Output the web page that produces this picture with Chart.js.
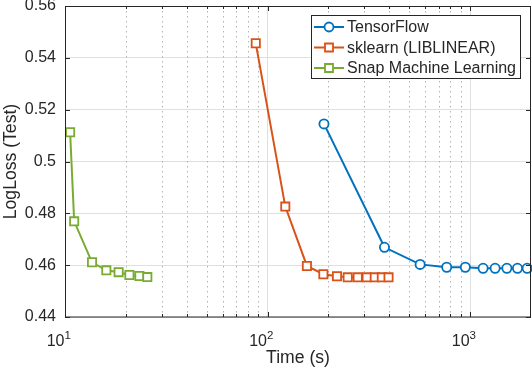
<!DOCTYPE html>
<html>
<head>
<meta charset="utf-8">
<script src="https://cdn.jsdelivr.net/npm/chart.js@4/dist/chart.umd.min.js"></script>
<style>
html,body{margin:0;padding:0;background:#fff;}
#wrap{width:532px;height:375px;position:relative;}
</style>
</head>
<body>
<div id="wrap"><canvas id="c"></canvas></div>
<script>
// values
const tfTime   = [190, 378, 567, 767, 948, 1160, 1330, 1520, 1715, 1915];
const tfLoss   = [0.5145, 0.4669, 0.4603, 0.4592, 0.4592, 0.4588, 0.4588, 0.4588, 0.4588, 0.4588];
const skTime   = [87.5, 122.4, 156.5, 188.7, 220.3, 248.9, 278.9, 309, 338.6, 366.8, 395.9];
const skLoss   = [0.5456, 0.4826, 0.4597, 0.4565, 0.4557, 0.4553, 0.4553, 0.4553, 0.4553, 0.4553, 0.4553];
const snapTime = [10.6, 11.1, 13.6, 16.0, 18.4, 20.8, 23.3, 25.5];
const snapLoss = [0.5113, 0.4769, 0.4611, 0.4580, 0.4573, 0.4562, 0.4558, 0.4554];

const seriesNames = ['TensorFlow', 'sklearn (LIBLINEAR)', 'Snap Machine Learning'];
const yTicks  = [0.44, 0.46, 0.48, 0.5, 0.52, 0.54, 0.56];
const xMajor  = [10, 100, 1000];
const xMinor  = [20, 30, 40, 50, 60, 70, 80, 90, 200, 300, 400, 500, 600, 700, 800, 900];

const TXT = '#262626';
const FONT = '"Liberation Sans", Arial, Helvetica, sans-serif';
const pts = (xs, ys)=>xs.map((x,i)=>({x, y: ys[i]}));

function mkSet(label, data, color, style, r){
  return {
    label, data,
    borderColor: color, backgroundColor: '#fff',
    borderWidth: 2, pointStyle: style, pointRadius: r,
    pointBorderWidth: 1.8, pointBackgroundColor: '#fff', pointBorderColor: color,
    tension: 0, clip: false
  };
}

const matlabAxes = {
  id: 'matlabAxes',
  beforeDatasetsDraw(chart){
    const {ctx, chartArea: a, scales: {x}} = chart;
    ctx.save();
    ctx.strokeStyle = '#b4b4b4';
    ctx.lineWidth = 1;
    ctx.setLineDash([1.5, 3.5]);
    xMinor.forEach(v=>{
      const px = Math.round(x.getPixelForValue(v)) + 0.5;
      ctx.beginPath(); ctx.moveTo(px, a.top); ctx.lineTo(px, a.bottom); ctx.stroke();
    });
    ctx.restore();
  },
  afterDraw(chart){
    const {ctx, chartArea: a, scales: {x, y}} = chart;
    ctx.save();
    ctx.strokeStyle = TXT;
    ctx.lineWidth = 1;
    // box
    ctx.strokeRect(a.left + 0.5, a.top + 0.5, a.right - a.left - 1, a.bottom - a.top - 0.5);
    // inward ticks
    ctx.beginPath();
    const tickX = (v, len)=>{
      const px = Math.round(x.getPixelForValue(v)) + 0.5;
      ctx.moveTo(px, a.bottom); ctx.lineTo(px, a.bottom - len);
      ctx.moveTo(px, a.top); ctx.lineTo(px, a.top + len);
    };
    xMajor.forEach(v=>tickX(v, 5));
    xMinor.forEach(v=>tickX(v, 3));
    yTicks.forEach(v=>{
      const py = Math.round(y.getPixelForValue(v)) + 0.5;
      ctx.moveTo(a.left, py); ctx.lineTo(a.left + 5, py);
      ctx.moveTo(a.right, py); ctx.lineTo(a.right - 5, py);
    });
    ctx.stroke();

    // x tick labels as 10^n
    ctx.fillStyle = TXT;
    ctx.textBaseline = 'alphabetic';
    xMajor.forEach(v=>{
      const px = x.getPixelForValue(v);
      ctx.font = '16px ' + FONT;
      ctx.textAlign = 'right';
      ctx.fillText('10', px - 0.5, a.bottom + 29);
      ctx.font = '11.5px ' + FONT;
      ctx.textAlign = 'left';
      ctx.fillText(String(Math.round(Math.log10(v))), px - 0.5, a.bottom + 22);
    });

    // legend
    const lw = 209, lh = 63;
    const lx = a.right - 11 - lw, ly = a.top + 9;
    ctx.fillStyle = '#fff';
    ctx.fillRect(lx, ly, lw, lh);
    ctx.strokeStyle = TXT;
    ctx.strokeRect(lx + 0.5, ly + 0.5, lw, lh);
    chart.data.datasets.forEach((ds, i)=>{
      const cy = ly + 12 + i * 20.5;
      ctx.strokeStyle = ds.borderColor;
      ctx.lineWidth = 2;
      ctx.beginPath(); ctx.moveTo(lx + 3, cy); ctx.lineTo(lx + 33, cy); ctx.stroke();
      ctx.fillStyle = '#fff';
      ctx.lineWidth = 1.8;
      ctx.beginPath();
      if(ds.pointStyle === 'circle'){
        ctx.arc(lx + 18, cy, 4.5, 0, Math.PI * 2);
      } else {
        ctx.rect(lx + 18 - 4, cy - 4, 8, 8);
      }
      ctx.fill(); ctx.stroke();
      ctx.fillStyle = TXT;
      ctx.font = '16px ' + FONT;
      ctx.textAlign = 'left';
      ctx.textBaseline = 'middle';
      ctx.fillText(ds.label, lx + 36, cy + 1);
    });
    ctx.restore();
  }
};

new Chart(document.getElementById('c'), {
  type: 'line',
  data: {
    datasets: [
      mkSet(seriesNames[0], pts(tfTime, tfLoss), '#0072BD', 'circle', 4.6),
      mkSet(seriesNames[1], pts(skTime, skLoss), '#D95319', 'rect', 5.8),
      mkSet(seriesNames[2], pts(snapTime, snapLoss), '#77AC30', 'rect', 5.8)
    ]
  },
  options: {
    responsive: true,
    maintainAspectRatio: false,
    animation: false,
    layout: { autoPadding: false, padding: { top: 6, right: 1, left: 0, bottom: 0 } },
    plugins: { legend: { display: false }, tooltip: { enabled: false } },
    scales: {
      x: {
        type: 'logarithmic', min: 10, max: 2000,
        afterBuildTicks: s=>{ s.ticks = xMajor.map(v=>({value: v, major: true})); },
        afterFit: s=>{ s.height = 58; s.paddingLeft = 0; s.paddingRight = 0; },
        ticks: { display: false },
        grid: { color: '#dfdfdf', drawTicks: false, lineWidth: 1 },
        border: { display: false },
        title: { display: true, text: 'Time (s)', color: TXT,
                 font: { family: FONT, size: 17.6 }, padding: { bottom: 6, top: 0 } }
      },
      y: {
        min: 0.44, max: 0.56,
        afterBuildTicks: s=>{ s.ticks = yTicks.map(v=>({value: v})); },
        afterFit: s=>{ s.width = 65; s.paddingTop = 0; s.paddingBottom = 0; },
        ticks: { autoSkip: false, padding: 9, color: TXT, font: { family: FONT, size: 16 },
                 callback: v=>String(parseFloat(Number(v).toFixed(2))) },
        grid: { color: '#dfdfdf', drawTicks: false, lineWidth: 1 },
        border: { display: false },
        title: { display: true, text: 'LogLoss (Test)', color: TXT,
                 font: { family: FONT, size: 17.6 }, padding: { top: 1, bottom: 0 } }
      }
    }
  },
  plugins: [matlabAxes]
});
</script>
</body>
</html>
